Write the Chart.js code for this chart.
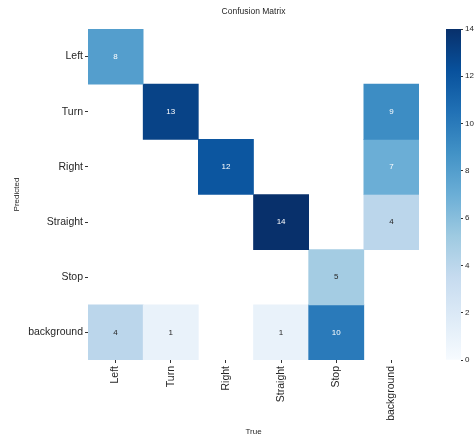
<!DOCTYPE html>
<html>
<head>
<meta charset="utf-8">
<script src="https://cdn.jsdelivr.net/npm/chart.js@4.4.1/dist/chart.umd.min.js"></script>
<style>
  html, body { margin: 0; padding: 0; background: #fff; }
  #wrap { position: relative; width: 476px; height: 437px; }
  #main { position: absolute; left: 0; top: 0; }
  #cbar { position: absolute; left: 420px; top: 0; }
</style>
</head>
<body>
<div id="wrap">
  <canvas id="main" width="476" height="437"></canvas>
  <canvas id="cbar" width="56" height="437"></canvas>
</div>
<script>
// ---- data ----
const trueLabels = ['Left', 'Turn', 'Right', 'Straight', 'Stop', 'background'];
const predLabels = ['Left', 'Turn', 'Right', 'Straight', 'Stop', 'background'];
const rowLeft       = [8, 0, 0, 0, 0, 0];
const rowTurn       = [0, 13, 0, 0, 0, 9];
const rowRight      = [0, 0, 12, 0, 0, 7];
const rowStraight   = [0, 0, 0, 14, 0, 4];
const rowStop       = [0, 0, 0, 0, 5, 0];
const rowBackground = [4, 1, 0, 1, 10, 0];
const matrixRows = [rowLeft, rowTurn, rowRight, rowStraight, rowStop, rowBackground];
const colorbarTicks = [0, 2, 4, 6, 8, 10, 12, 14];
const vMin = 0, vMax = 14;

// ---- Blues colormap ----
const bluesStops = ['#f7fbff','#deebf7','#c6dbef','#9ecae1','#6baed6','#4292c6','#2171b5','#08519c','#08306b'];
function hexToRgb(h){ return [parseInt(h.slice(1,3),16), parseInt(h.slice(3,5),16), parseInt(h.slice(5,7),16)]; }
function blues(v){
  let t = (v - vMin) / (vMax - vMin);
  t = Math.max(0, Math.min(1, t));
  const p = t * (bluesStops.length - 1);
  const i = Math.min(Math.floor(p), bluesStops.length - 2);
  const f = p - i;
  const a = hexToRgb(bluesStops[i]), b = hexToRgb(bluesStops[i+1]);
  return a.map((c, k) => Math.round(c + (b[k] - c) * f));
}
function rgbStr(c){ return 'rgb(' + c.join(',') + ')'; }
function lum(c){
  const l = c.map(x => { x /= 255; return x <= 0.03928 ? x / 12.92 : Math.pow((x + 0.055) / 1.055, 2.4); });
  return 0.2126 * l[0] + 0.7152 * l[1] + 0.0722 * l[2];
}

const FONT = '"Liberation Sans", Arial, Helvetica, sans-serif';
const TXT = '#262626';

// row r occupies the band (r+0.5 .. r+1.5) on the reversed y axis
const datasets = matrixRows.map((row, r) => ({
  label: predLabels[r],
  data: row.map(v => v > 0 ? [r + 0.5, r + 1.5] : null),
  backgroundColor: row.map(v => rgbStr(blues(v))),
  borderWidth: 0,
  barPercentage: 1,
  categoryPercentage: 1,
  grouped: false,
  counts: row
}));

const cellText = {
  id: 'cellText',
  afterDatasetsDraw(chart) {
    const ctx = chart.ctx;
    ctx.save();
    ctx.font = '8px ' + FONT;
    ctx.textAlign = 'center';
    ctx.textBaseline = 'middle';
    chart.data.datasets.forEach((ds, di) => {
      const meta = chart.getDatasetMeta(di);
      meta.data.forEach((el, i) => {
        const v = ds.counts[i];
        if (!v) return;
        const c = blues(v);
        ctx.fillStyle = lum(c) < 0.408 ? '#ffffff' : '#262626';
        const cy = (el.y + el.base) / 2;
        ctx.fillText(String(v), el.x, cy);
      });
    });
    ctx.restore();
  }
};

new Chart(document.getElementById('main'), {
  type: 'bar',
  data: { labels: trueLabels, datasets },
  options: {
    responsive: false,
    animation: false,
    layout: { padding: { left: 0, right: 57, top: 0, bottom: 0 } },
    plugins: {
      legend: { display: false },
      tooltip: { enabled: false },
      title: {
        display: true,
        text: 'Confusion Matrix',
        fullSize: false,
        color: TXT,
        font: { family: FONT, size: 8.5, weight: 'normal' },
        padding: { top: 7, bottom: 11.8 }
      }
    },
    scales: {
      x: {
        type: 'category',
        offset: true,
        grid: { display: true, drawOnChartArea: false, offset: false, drawTicks: true, tickLength: 3, color: '#333', tickWidth: 1 },
        border: { display: false },
        ticks: { minRotation: 90, maxRotation: 90, padding: 3, color: TXT, font: { family: FONT, size: 10.5 } },
        title: { display: true, text: 'True', color: TXT, font: { family: FONT, size: 8 }, padding: { top: 0, bottom: 0 } },
        afterFit(s) { s.height = 77; }
      },
      y: {
        type: 'linear',
        min: 0.5,
        max: 6.5,
        reverse: true,
        afterBuildTicks(s) { s.ticks = predLabels.map((_, i) => ({ value: i + 1 })); },
        grid: { display: true, drawOnChartArea: false, drawTicks: true, tickLength: 3, color: '#333', tickWidth: 1 },
        border: { display: false },
        ticks: {
          autoSkip: false,
          padding: 2,
          color: TXT,
          font: { family: FONT, size: 10.5 },
          callback: (v) => predLabels[v - 1] !== undefined ? predLabels[v - 1] : ''
        },
        title: { display: true, text: 'Predicted', color: TXT, font: { family: FONT, size: 8 }, padding: { top: 12, bottom: 0 } },
        afterFit(s) { s.width = 88; }
      }
    }
  },
  plugins: [cellText]
});

// ---- colorbar ----
function cbarGradient(ctx) {
  const chart = ctx.chart;
  const area = chart.chartArea;
  if (!area) return bluesStops[4];
  const g = chart.ctx.createLinearGradient(0, area.bottom, 0, area.top);
  bluesStops.forEach((c, i) => g.addColorStop(i / (bluesStops.length - 1), c));
  return g;
}

new Chart(document.getElementById('cbar'), {
  type: 'bar',
  data: {
    labels: [''],
    datasets: [{
      data: [[vMin, vMax]],
      backgroundColor: cbarGradient,
      borderWidth: 0,
      barPercentage: 1,
      categoryPercentage: 1
    }]
  },
  options: {
    responsive: false,
    animation: false,
    layout: { padding: { left: 26, right: 0, top: 29, bottom: 77 } },
    plugins: { legend: { display: false }, tooltip: { enabled: false }, title: { display: false } },
    scales: {
      x: { display: false },
      y: {
        position: 'right',
        min: vMin,
        max: vMax,
        afterBuildTicks(s) { s.ticks = colorbarTicks.map(v => ({ value: v })); },
        grid: { display: true, drawOnChartArea: false, drawTicks: true, tickLength: 2, color: '#333', tickWidth: 1 },
        border: { display: false },
        ticks: { padding: 2, color: TXT, font: { family: FONT, size: 8 } },
        afterFit(s) { s.width = 15; }
      }
    }
  }
});
</script>
</body>
</html>
